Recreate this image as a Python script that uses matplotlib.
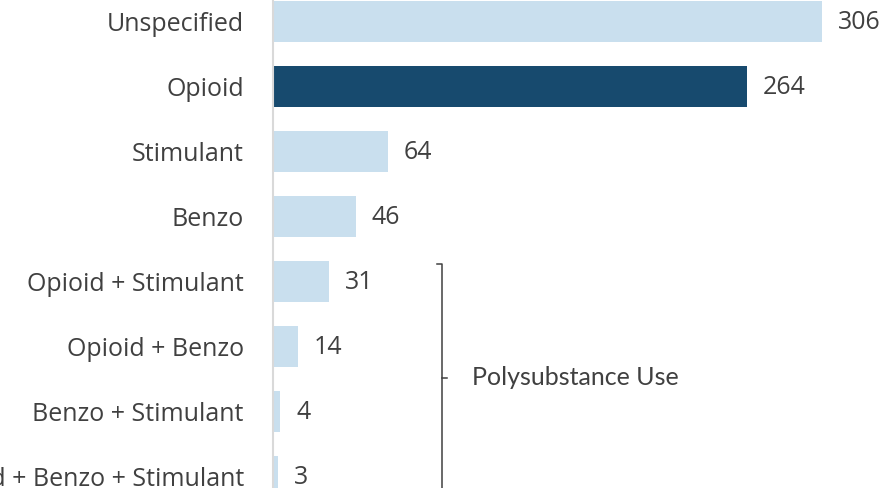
import matplotlib
matplotlib.use("Agg")
import matplotlib.pyplot as plt

categories = ["Unspecified", "Opioid", "Stimulant", "Benzo", "Opioid + Stimulant",
              "Opioid + Benzo", "Benzo + Stimulant", "Opioid + Benzo + Stimulant"]
values = [306, 264, 64, 46, 31, 14, 4, 3]
highlight = "Opioid"
bracket_label = "Polysubstance Use"

LIGHT = "#c9dfee"
DARK = "#174a6e"
TEXT = "#404040"
FS = 18

W, H = 886, 488
fig = plt.figure(figsize=(W / 100, H / 100), dpi=100)
ax_left = 273 / W
ax = fig.add_axes([ax_left, 0, 1 - ax_left, 1])

y = list(range(len(categories)))
colors = [DARK if c == highlight else LIGHT for c in categories]
ax.barh(y, values, height=0.63, color=colors)

px_per_unit = 549 / 306
ax.set_xlim(0, (W - 273) / px_per_unit)
ax.set_ylim((H - 21.5) / 65, -21.5 / 65)

for s in ["top", "right", "bottom"]:
    ax.spines[s].set_visible(False)
ax.spines["left"].set_color("#d9d9d9")
ax.spines["left"].set_linewidth(1.5)
ax.set_xticks([])
ax.set_yticks(y)
ax.set_yticklabels(categories, fontsize=FS, color=TEXT, family="Open Sans")
ax.tick_params(axis="y", length=0, pad=21)

for yi, v in zip(y, values):
    ax.annotate(str(v), (v, yi), xytext=(11.5, -1), textcoords="offset points",
                va="center", ha="left", fontsize=FS, color=TEXT, family="Open Sans")

# bracket for polysubstance rows
bx = (442 - 273) / px_per_unit
top = (264 - 21.5) / 65
mid = (378 - 21.5) / 65
bot = mid + (mid - top)
tick = 5 / px_per_unit
ax.plot([bx - tick, bx, bx, bx - tick], [top, top, bot, bot], color=TEXT, lw=1.1, clip_on=True)
ax.plot([bx, bx + tick], [mid, mid], color=TEXT, lw=1.1)
ax.text(bx + 30 / px_per_unit, mid, bracket_label, va="center", ha="left",
        fontsize=FS, color=TEXT, family="Lato")

fig.savefig("out.png", dpi=100)
